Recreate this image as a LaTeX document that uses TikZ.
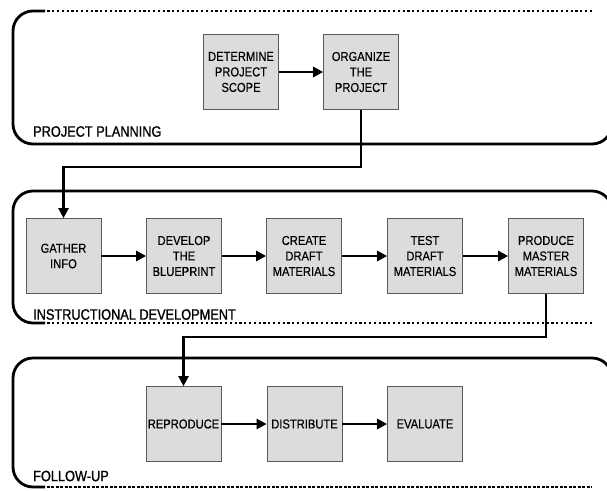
\documentclass[tikz,border=0pt]{standalone}
\usepackage{fontspec}
\setmainfont{Liberation Sans}
\newfontfamily\boxfont{Liberation Sans}[FakeStretch=0.86, FakeBold=0.25]
\newfontfamily\phasefont{Liberation Sans}[FakeStretch=0.85, FakeBold=1.0]
\usetikzlibrary{arrows.meta}
\definecolor{boxfill}{HTML}{DCDCDC}
\definecolor{boxline}{HTML}{5A5A5A}
\tikzset{
  stepbox/.style={draw=boxline, line width=0.7pt, fill=boxfill,
    minimum width=75pt, minimum height=75pt, inner sep=0pt,
    align=center, font=\boxfont\fontsize{13}{15.5}\selectfont},
  flow/.style={line width=2.8pt, -{Triangle[length=10pt,width=10pt]}},
  link/.style={line width=2.2pt, -{Triangle[length=10pt,width=10pt]}},
  frame/.style={line width=2.8pt, rounded corners=20pt},
  dotside/.style={line width=2.6pt, dash pattern=on 2.2pt off 2.6pt},
  thinside/.style={line width=1.2pt, dash pattern=on 3pt off 1.5pt},
  phase/.style={anchor=west, inner sep=0pt, font=\phasefont\fontsize{15}{15}\selectfont}
}
\begin{document}
\begin{tikzpicture}[x=1pt, y=-1pt]
\useasboundingbox (0,0) rectangle (607,490);

% phase frames
\draw[frame] (45,11) -| (13,144) -| (612,11);
\draw[dotside] (33,11) -- (592,11);
\draw[frame] (45,323) -| (13,191) -| (612,323);
\draw[dotside] (33,323) -- (592,323);
\draw[frame] (45,487) -| (13,358) -| (612,487);
\draw[thinside] (33,487) -- (592,487);

% phase labels
\node[phase] (lp) at (33,131.5) {PROJECT PLANNING};
\node[phase] (li) at (33,314.5) {INSTRUCTIONAL DEVELOPMENT};
\node[phase] (lf) at (33,476) {FOLLOW-UP};

% project planning
\node[stepbox] (det) at (241,72) {DETERMINE\\PROJECT\\SCOPE};
\node[stepbox] (org) at (361,72) {ORGANIZE\\THE\\PROJECT};

% instructional development
\node[stepbox] (gat) at (63.5,256) {GATHER\\INFO};
\node[stepbox] (dev) at (184,256) {DEVELOP\\THE\\BLUEPRINT};
\node[stepbox] (cre) at (304,256) {CREATE\\DRAFT\\MATERIALS};
\node[stepbox] (tst) at (425,256) {TEST\\DRAFT\\MATERIALS};
\node[stepbox] (prd) at (546,256) {PRODUCE\\MASTER\\MATERIALS};

% follow-up
\node[stepbox] (rep) at (183.5,424) {REPRODUCE};
\node[stepbox] (dis) at (304.5,424) {DISTRIBUTE};
\node[stepbox] (eva) at (425,424) {EVALUATE};

% flow within phases
\draw[flow] (det) -- (org);
\draw[flow] (gat) -- (dev);
\draw[flow] (dev) -- (cre);
\draw[flow] (cre) -- (tst);
\draw[flow] (tst) -- (prd);
\draw[flow] (rep) -- (dis);
\draw[flow] (dis) -- (eva);

% links between phases
\draw[link] (org.south) -- ++(0,57) -| (gat.north);
\draw[link] (prd.south) -- ++(0,43) -| (rep.north);
\end{tikzpicture}
\end{document}
